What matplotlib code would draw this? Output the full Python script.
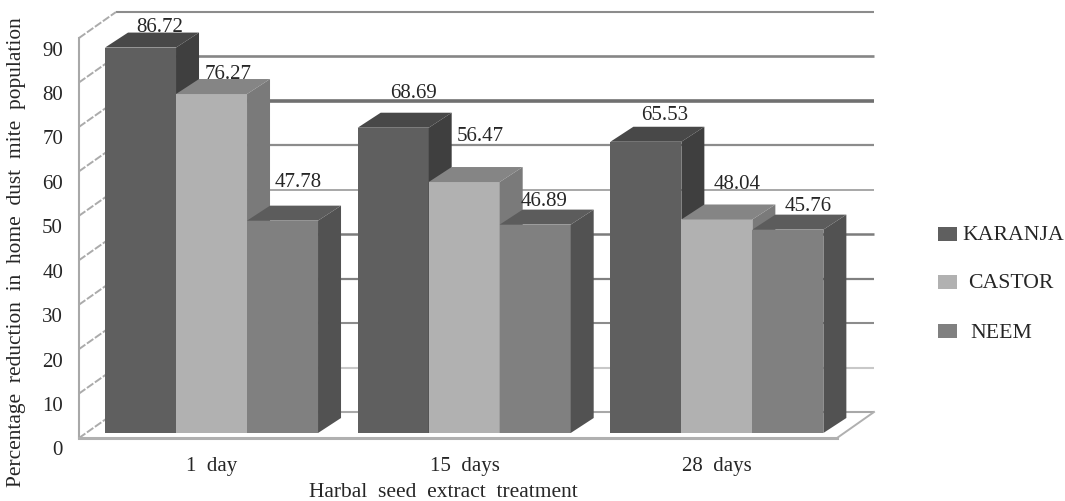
import numpy as np
import matplotlib
matplotlib.use("Agg")
import matplotlib.pyplot as plt
from matplotlib.patches import Rectangle
from matplotlib.transforms import Affine2D

categories = ["1  day", "15  days", "28  days"]
series = ["KARANJA", "CASTOR", "NEEM"]
karanja = [86.72, 68.69, 65.53]
castor = [76.27, 56.47, 48.04]
neem = [47.78, 46.89, 45.76]
y_ticks = [0, 10, 20, 30, 40, 50, 60, 70, 80, 90]

plt.rcParams["font.family"] = ["Liberation Serif", "DejaVu Serif"]
W, H = 1065, 502
TXT = "#262626"

# front, top, side shades for each series
shades = [("#5f5f5f", "#484848", "#3f3f3f"),
          ("#b1b1b1", "#858585", "#7a7a7a"),
          ("#808080", "#5c5c5c", "#525252")]
# value label offsets from the centre of the bar top, pixels
label_off = [[(19, 24), (20, 38), (19, 30)],
             [(17, 24), (16, 50), (20, 39)],
             [(16, 42), (9, 27), (20, 27)]]
# back wall gridlines (colour, width), 0 to 90
grid_style = [("#a8a8a8", 1.5), ("#c8c8c8", 1.5), ("#8c8c8c", 1.5), ("#808080", 1.6), ("#7c7c7c", 1.8),
              ("#a0a0a0", 1.3), ("#8c8c8c", 1.6), ("#707070", 2.6), ("#868686", 1.9), ("#8c8c8c", 1.5)]

fig = plt.figure(figsize=(W / 100, H / 100), dpi=100)
ax = fig.add_axes([79 / W, 63 / H, 758 / W, 400 / H])
ax.set_xlim(-0.5, 2.5)
ax.set_ylim(0, 90)
for s in ax.spines.values():
    s.set_visible(False)

px_x = 3 / 758
px_y = 90 / 400

# walls and floor
wall_dx, wall_dy = 37 * px_x, 26 * px_y
for v, (c, lw) in zip(y_ticks, grid_style):
    ax.plot([-0.5 + wall_dx, 2.5 + wall_dx], [v + wall_dy, v + wall_dy], color=c, lw=lw, clip_on=False, zorder=1, solid_capstyle="butt")
    ax.plot([-0.5, -0.5 + wall_dx], [v, v + wall_dy], color="#ababab", lw=1.4, ls=(0, (4, 1)), clip_on=False, zorder=1)
ax.plot([-0.5, -0.5], [0, 90], color="#a8a8a8", lw=1.5, clip_on=False, zorder=1)
ax.plot([-0.5, 2.5], [0, 0], color="#b0b0b0", lw=2.2, clip_on=False, zorder=1)
ax.plot([2.5, 2.5 + wall_dx], [0, wall_dy], color="#b0b0b0", lw=1.4, clip_on=False, zorder=1)

# bars sit a little behind the front edge of the floor
bar_tr = ax.transData + Affine2D().translate(0, 5)
bar_w = 71 * px_x
dx, dy = 23 * px_x, 15 * px_y
x = np.arange(len(categories))
z = 3
for i, vals in enumerate([karanja, castor, neem]):
    front, top, side = shades[i]
    for j, v in enumerate(vals):
        left = x[j] - 0.397 + i * bar_w
        right = left + bar_w
        ax.bar(left, v, bar_w, align="edge", color=front, transform=bar_tr, clip_on=False, zorder=z + j * 10)
        ax.fill([left, right, right + dx, left + dx], [v, v, v + dy, v + dy], color=top, lw=0,
                transform=bar_tr, clip_on=False, zorder=z + j * 10)
        ax.fill([right, right + dx, right + dx, right], [0, dy, v + dy, v], color=side, lw=0,
                transform=bar_tr, clip_on=False, zorder=z + j * 10)
        ox, oy = label_off[i][j]
        ax.annotate(f"{v:.2f}", (left + bar_w / 2, v), xytext=(ox, oy + 2), textcoords="offset pixels",
                    ha="center", va="center", fontsize=15, color=TXT, zorder=50)
    z += 1

# axis text
ax.set_yticks(y_ticks)
ax.set_xticks(x + 0.026)
ax.set_xticklabels(categories)
ax.tick_params(axis="both", length=0, labelsize=15, labelcolor=TXT)
ax.tick_params(axis="y", pad=11.5)
ax.tick_params(axis="x", pad=13)
for lab in ax.get_yticklabels():
    lab.set_transform(lab.get_transform() + Affine2D().translate(0, -9.5))

ax.set_ylabel("Percentage  reduction  in  home  dust  mite  population", fontsize=15.4, color=TXT)
ax.yaxis.set_label_coords(-53 / 758, (439 - 252) / 400)
ax.set_xlabel("Harbal  seed  extract  treatment", fontsize=15.5, color=TXT, va="center")
ax.xaxis.set_label_coords((443 - 79) / 758, -(493 - 439) / 400)

# legend
patch_rows = [235, 283, 332]
text_rows = [236, 283, 334]
text_x = [962, 968, 970]
for name, sh, pr, r, tx in zip(series, shades, patch_rows, text_rows, text_x):
    fig.add_artist(Rectangle((938 / W, 1 - (pr + 7) / H), 19 / W, 14 / H, color=sh[0], lw=0, transform=fig.transFigure))
    fig.text(tx / W, 1 - r / H, name, fontsize=15.7, color=TXT, va="center", ha="left")

fig.savefig("out.png", dpi=100, facecolor="white")
